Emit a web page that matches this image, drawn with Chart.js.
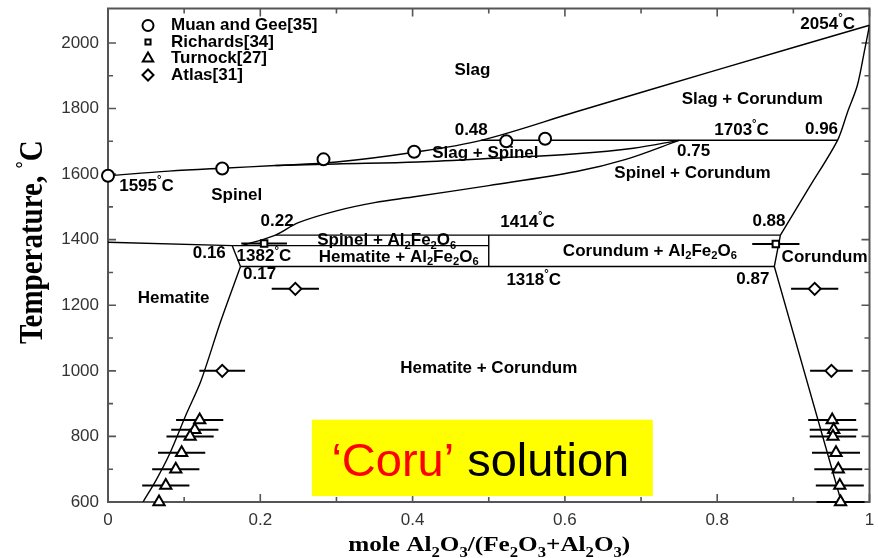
<!DOCTYPE html>
<html>
<head>
<meta charset="utf-8">
<style>
  html, body { margin: 0; padding: 0; background: #fff; }
  canvas { display: block; }
</style>
<script src="https://cdn.jsdelivr.net/npm/chart.js"></script>
</head>
<body>
<canvas id="chart" width="878" height="558"></canvas>
<script>
// ---- axes ----
const xTicks = [0, 0.2, 0.4, 0.6, 0.8, 1];
const xMinorTicks = [0.1, 0.3, 0.5, 0.7, 0.9];
const yTicks = [600, 800, 1000, 1200, 1400, 1600, 1800, 2000];
const yMinorTicks = [700, 900, 1100, 1300, 1500, 1700, 1900];

// ---- phase boundaries (composition x, temperature °C) ----
const liquidusX = [0, 0.08, 0.15, 0.22, 0.30, 0.40, 0.49, 0.615, 0.80, 1.0];
const liquidusT = [1595, 1609, 1618, 1626, 1637, 1666, 1703, 1790, 1918, 2054];

const spinelSolidusX = [0.22, 0.30, 0.407, 0.52, 0.615, 0.69, 0.75];
const spinelSolidusT = [1626, 1631, 1637, 1650, 1662, 1679, 1703];

const spinelLimitX = [0.176, 0.22, 0.25, 0.30, 0.35, 0.40, 0.50, 0.615, 0.68, 0.75];
const spinelLimitT = [1382, 1414, 1452, 1488, 1513, 1530, 1565, 1608, 1645, 1703];

const spinelHematiteX = [0, 0.163];
const spinelHematiteT = [1392, 1382];

const hematiteUpperX = [0.163, 0.174];
const hematiteUpperT = [1382, 1318];

const hematiteSolvusX = [0.174, 0.148, 0.122, 0.103, 0.081, 0.063, 0.046];
const hematiteSolvusT = [1318, 1151, 969, 869, 747, 666, 600];

const corundumUpperX = [1.0, 0.993, 0.984, 0.971, 0.958, 0.921, 0.883];
const corundumUpperT = [2054, 1971, 1870, 1788, 1703, 1560, 1414];

const corundumLowerX = [0.883, 0.875, 0.963];
const corundumLowerT = [1414, 1318, 600];

const peritecticX = [0.49, 0.958];     // 1703 °C
const peritecticT = [1703, 1703];
const upperInvariantX = [0.22, 0.883]; // 1414 °C
const upperInvariantT = [1414, 1414];
const middleInvariantX = [0.163, 0.5]; // 1382 °C
const middleInvariantT = [1382, 1382];
const lowerInvariantX = [0.174, 0.875]; // 1318 °C
const lowerInvariantT = [1318, 1318];
const compoundX = [0.5, 0.5];           // Al2Fe2O6
const compoundT = [1318, 1414];

// ---- experimental points ----
const muanX = [0, 0.15, 0.283, 0.402, 0.523, 0.574];
const muanT = [1595, 1617, 1645, 1668, 1700, 1708];

const richardsX = [0.205, 0.877];
const richardsT = [1388, 1387];
const richardsErr = [0.03, 0.031];

const turnockLeftX = [0.1204, 0.114, 0.1078, 0.0967, 0.089, 0.0759, 0.067];
const turnockLeftT = [850, 820, 800, 750, 700, 650, 600];
const turnockLeftErr = [0.031, 0.031, 0.031, 0.031, 0.031, 0.031, 0];

const turnockRightX = [0.951, 0.953, 0.952, 0.956, 0.959, 0.961, 0.962];
const turnockRightT = [850, 820, 800, 750, 700, 650, 600];
const turnockRightErr = [0.0315, 0.0315, 0.0305, 0.0315, 0.0315, 0.0315, 0.0315];

const atlasX = [0.246, 0.928, 0.15, 0.95];
const atlasT = [1250, 1250, 1000, 1000];
const atlasErr = [0.031, 0.031, 0.03, 0.028];

// ---- region and point annotations: [text, x, T] ----
const regionLabels = [
  ['Slag', 0.4785, 1915],
  ['Slag + Corundum', 0.846, 1827],
  ['0.48', 0.477, 1733],
  ['1703^°C', 0.832, 1735],
  ['0.96', 0.937, 1736],
  ['Slag + Spinel', 0.4955, 1663],
  ['0.75', 0.769, 1670],
  ['Spinel + Corundum', 0.7675, 1601],
  ['1595^°C', 0.0505, 1563],
  ['Spinel', 0.169, 1536],
  ['0.22', 0.222, 1457],
  ['1414^°C', 0.551, 1454],
  ['0.88', 0.868, 1457],
  ['Spinel + Al_2Fe_2O_6', 0.366, 1398],
  ['Corundum + Al_2Fe_2O_6', 0.7116, 1366],
  ['0.16', 0.133, 1358],
  ['1382^°C', 0.2047, 1348],
  ['Hematite + Al_2Fe_2O_6', 0.3817, 1347],
  ['Corundum', 0.941, 1345],
  ['0.17', 0.199, 1293],
  ['1318^°C', 0.559, 1277],
  ['0.87', 0.8468, 1280],
  ['Hematite', 0.0862, 1222],
  ['Hematite + Corundum', 0.50, 1008],
  ['2054^°C', 0.945, 2058]
];

const legendNames = ['Muan and Gee[35]', 'Richards[34]', 'Turnock[27]', 'Atlas[31]'];

const SANS = '"Liberation Sans", Arial, Helvetica, sans-serif';
const SERIF = '"Liberation Serif", "Times New Roman", Times, serif';

const pts = (xs, ts) => xs.map((x, i) => ({ x: x, y: ts[i] }));

function boundary(xs, ts, tension) {
  return {
    data: pts(xs, ts), showLine: true, pointRadius: 0, pointHoverRadius: 0,
    borderColor: '#000', borderWidth: 1.4, tension: tension, fill: false, order: 5
  };
}

const markerStyles = [
  { pointStyle: 'circle', radius: 6 },
  { pointStyle: 'rect', radius: 4.6 },
  { pointStyle: 'triangle', radius: 6.5 },
  { pointStyle: 'rectRot', radius: 6 }
];

function markers(xs, ts, errs, styleIdx) {
  const s = markerStyles[styleIdx];
  return {
    data: pts(xs, ts), errors: errs || null, showLine: false,
    pointStyle: s.pointStyle, pointRadius: s.radius, pointHoverRadius: s.radius,
    pointBorderWidth: 2, pointBorderColor: '#000', pointBackgroundColor: '#fff',
    clip: false, order: 1
  };
}

// ---- rich text: "_x" subscript, "^x" superscript ----
function segmentsOf(str) {
  const segs = [];
  let cur = '';
  for (let i = 0; i < str.length; i++) {
    const ch = str[i];
    if ((ch === '_' || ch === '^') && i + 1 < str.length) {
      if (cur) segs.push({ t: cur, mode: 0 });
      segs.push({ t: str[i + 1], mode: ch === '_' ? 1 : 2 });
      cur = '';
      i++;
    } else {
      cur += ch;
    }
  }
  if (cur) segs.push({ t: cur, mode: 0 });
  return segs;
}

function drawRich(ctx, str, x, y, size, weight, family, align, subScale) {
  const segs = segmentsOf(str);
  const sc = subScale || 0.66;
  const fontFor = m => weight + ' ' + (m ? (size * sc).toFixed(1) : size) + 'px ' + family;
  let w = 0;
  segs.forEach(s => { ctx.font = fontFor(s.mode); s.w = ctx.measureText(s.t).width; w += s.w; });
  let cx = align === 'center' ? x - w / 2 : x;
  ctx.textAlign = 'left';
  segs.forEach(s => {
    ctx.font = fontFor(s.mode);
    const dy = s.mode === 1 ? size * 0.3 : (s.mode === 2 ? -size * 0.36 : 0);
    ctx.fillText(s.t, cx, y + dy);
    cx += s.w;
  });
}

// ---- frame and inward ticks on all four sides ----
const framePlugin = {
  id: 'frame',
  beforeDatasetsDraw(chart) {
    const { ctx, chartArea: a, scales: { x, y } } = chart;
    ctx.save();
    ctx.strokeStyle = '#555';
    ctx.lineWidth = 2;
    ctx.strokeRect(a.left, a.top, a.right - a.left, a.bottom - a.top);
    ctx.lineWidth = 1.6;
    ctx.beginPath();
    const xt = (v, len) => {
      const px = x.getPixelForValue(v);
      ctx.moveTo(px, a.bottom); ctx.lineTo(px, a.bottom - len);
      ctx.moveTo(px, a.top); ctx.lineTo(px, a.top + len);
    };
    const yt = (v, len) => {
      const py = y.getPixelForValue(v);
      ctx.moveTo(a.left, py); ctx.lineTo(a.left + len, py);
      ctx.moveTo(a.right, py); ctx.lineTo(a.right - len, py);
    };
    xTicks.forEach(v => xt(v, 8));
    xMinorTicks.forEach(v => xt(v, 5));
    yTicks.forEach(v => yt(v, 8));
    yMinorTicks.forEach(v => yt(v, 5));
    ctx.stroke();
    ctx.restore();
  }
};

// ---- horizontal error bars ----
const errorBarPlugin = {
  id: 'errorBars',
  beforeDatasetsDraw(chart) {
    const { ctx, scales: { x, y } } = chart;
    ctx.save();
    ctx.strokeStyle = '#000';
    ctx.lineWidth = 2;
    chart.data.datasets.forEach(ds => {
      if (!ds.errors) return;
      ds.data.forEach((p, i) => {
        const e = ds.errors[i];
        if (!e) return;
        const py = y.getPixelForValue(p.y);
        ctx.beginPath();
        ctx.moveTo(x.getPixelForValue(p.x - e), py);
        ctx.lineTo(x.getPixelForValue(p.x + e), py);
        ctx.stroke();
      });
    });
    ctx.restore();
  }
};

// ---- annotations, legend, titles ----
const annotationPlugin = {
  id: 'annotations',
  afterDatasetsDraw(chart) {
    const { ctx, chartArea: a, scales: { x, y } } = chart;
    ctx.save();
    ctx.fillStyle = '#000';
    ctx.textBaseline = 'middle';
    regionLabels.forEach(([t, vx, vy]) => {
      drawRich(ctx, t, x.getPixelForValue(vx), y.getPixelForValue(vy), 17, 'bold', SANS, 'center', 0.66);
    });

    // legend
    const lx = a.left + 40, ly = a.top + 17, step = 16.5;
    legendNames.forEach((name, i) => {
      const s = markerStyles[i];
      const cy = ly + i * step;
      ctx.strokeStyle = '#000';
      ctx.fillStyle = '#fff';
      ctx.lineWidth = 2;
      if (Chart.helpers && Chart.helpers.drawPoint) {
        Chart.helpers.drawPoint(ctx, { pointStyle: s.pointStyle, radius: i === 1 ? 3.6 : s.radius - 0.5, borderWidth: 2, rotation: 0 }, lx, cy);
      }
      ctx.fillStyle = '#000';
      ctx.font = 'bold 17px ' + SANS;
      ctx.textAlign = 'left';
      ctx.fillText(name, lx + 23, cy);
    });

    // highlighted note
    const bx0 = x.getPixelForValue(0.2677), bx1 = x.getPixelForValue(0.7154);
    const by0 = y.getPixelForValue(851), by1 = y.getPixelForValue(618);
    ctx.fillStyle = '#ffff00';
    ctx.fillRect(bx0, by0, bx1 - bx0, by1 - by0);
    ctx.font = '47px ' + SANS;
    ctx.textBaseline = 'alphabetic';
    const red = '\u2018Coru\u2019', black = ' solution';
    const wr = ctx.measureText(red).width, wb = ctx.measureText(black).width;
    const tx = x.getPixelForValue(0.4889) - (wr + wb) / 2;
    const ty = y.getPixelForValue(680);
    ctx.textAlign = 'left';
    ctx.fillStyle = '#ff0000';
    ctx.fillText(red, tx, ty);
    ctx.fillStyle = '#000';
    ctx.fillText(black, tx + wr, ty);

    // axis titles
    ctx.fillStyle = '#000';
    ctx.textBaseline = 'alphabetic';
    ctx.save();
    ctx.translate((a.left + a.right) / 2 + 0.5, 551);
    ctx.scale(1.2, 1);
    drawRich(ctx, 'mole Al_2O_3/(Fe_2O_3+Al_2O_3)', 0, 0, 21, 'bold', SERIF, 'center', 0.66);
    ctx.restore();

    ctx.save();
    ctx.translate(42, (a.top + a.bottom) / 2 - 13);
    ctx.scale(1.15, 1);
    ctx.rotate(-Math.PI / 2);
    drawRich(ctx, 'Temperature, ^°C', 0, 0, 29, 'bold', SERIF, 'center', 0.62);
    ctx.restore();

    ctx.restore();
  }
};

const datasets = [
  boundary(liquidusX, liquidusT, 0.35),
  boundary(spinelSolidusX, spinelSolidusT, 0.35),
  boundary(spinelLimitX, spinelLimitT, 0.35),
  boundary(spinelHematiteX, spinelHematiteT, 0),
  boundary(hematiteUpperX, hematiteUpperT, 0),
  boundary(hematiteSolvusX, hematiteSolvusT, 0.3),
  boundary(corundumUpperX, corundumUpperT, 0.3),
  boundary(corundumLowerX, corundumLowerT, 0),
  boundary(peritecticX, peritecticT, 0),
  boundary(upperInvariantX, upperInvariantT, 0),
  boundary(middleInvariantX, middleInvariantT, 0),
  boundary(lowerInvariantX, lowerInvariantT, 0),
  boundary(compoundX, compoundT, 0),
  markers(muanX, muanT, null, 0),
  markers(richardsX, richardsT, richardsErr, 1),
  markers(turnockLeftX, turnockLeftT, turnockLeftErr, 2),
  markers(turnockRightX, turnockRightT, turnockRightErr, 2),
  markers(atlasX, atlasT, atlasErr, 3)
];

new Chart(document.getElementById('chart'), {
  type: 'scatter',
  data: { datasets: datasets },
  options: {
    responsive: false,
    animation: false,
    events: [],
    layout: { padding: { left: 0, right: 3, top: 6, bottom: 0 } },
    plugins: { legend: { display: false }, tooltip: { enabled: false } },
    scales: {
      x: {
        type: 'linear', min: 0, max: 1,
        grid: { display: false, drawTicks: false },
        border: { display: false },
        ticks: {
          padding: 8, color: '#333', font: { family: SANS, size: 17 },
          callback: v => (v === 0 || v === 1) ? String(v) : v.toFixed(1)
        },
        afterBuildTicks: ax => { ax.ticks = xTicks.map(v => ({ value: v })); },
        afterFit: ax => { ax.height = 56; ax.paddingLeft = 0; ax.paddingRight = 0; }
      },
      y: {
        type: 'linear', min: 600, max: 2105,
        grid: { display: false, drawTicks: false },
        border: { display: false },
        ticks: {
          padding: 9, color: '#333', font: { family: SANS, size: 17 },
          callback: v => String(v)
        },
        afterBuildTicks: ax => { ax.ticks = yTicks.map(v => ({ value: v })); },
        afterFit: ax => { ax.width = 108; ax.paddingTop = 0; ax.paddingBottom = 0; }
      }
    }
  },
  plugins: [framePlugin, errorBarPlugin, annotationPlugin]
});
</script>
</body>
</html>
